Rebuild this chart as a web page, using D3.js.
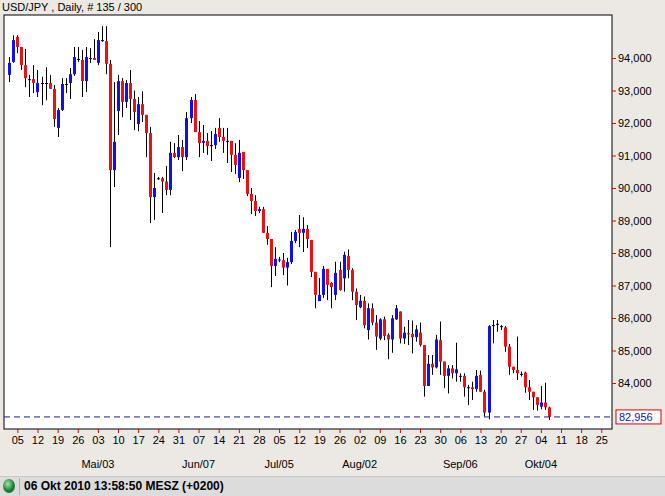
<!DOCTYPE html>
<html><head><meta charset="utf-8">
<script src="https://cdn.jsdelivr.net/npm/d3@7"></script>
<style>body{margin:0;background:#ece9e4;}svg{display:block;font-family:"Liberation Sans",Arial,sans-serif;}</style>
</head><body><svg id="c" width="665" height="496"></svg>
<script>
const title = "USD/JPY , Daily, # 135 / 300";
const statusText = "06 Okt 2010 13:58:50  MESZ (+0200)";
const lastPrice = 82.956;
const opens = [93.48,93.88,94.65,94.34,93.78,93.35,93.35,92.95,93.23,93.23,93.23,93.05,91.85,92.4,93.2,93.23,93.5,93.97,93.94,93.29,94.0,94.0,93.85,94.55,94.52,93.82,90.55,92.37,93.29,92.65,93.23,92.74,91.97,92.58,92.25,91.69,89.72,90.3,90.3,90.2,89.94,91.08,90.95,91.26,90.95,92.15,92.71,91.72,91.39,91.45,91.32,91.32,91.85,91.57,91.45,91.45,91.02,90.31,91.11,90.55,89.82,89.6,89.29,89.35,88.62,88.43,87.6,87.78,87.78,87.55,87.72,88.37,88.74,88.62,88.74,88.4,87.42,86.52,86.71,87.51,87.08,86.71,87.48,87.22,87.91,87.48,86.81,86.33,86.53,85.63,86.30,85.86,85.37,85.96,85.48,85.34,85.96,86.20,85.37,85.53,85.51,85.41,85.55,85.17,83.91,84.59,84.48,85.32,84.66,84.22,84.45,84.30,84.22,84.22,83.87,83.87,83.81,84.25,83.73,83.09,85.78,85.82,85.75,85.71,85.12,84.50,84.40,84.28,84.32,83.87,83.73,83.56,83.27,83.40,83.25];
const highs = [94.03,94.7,94.7,94.34,94.28,93.48,93.78,93.63,93.42,93.72,93.48,93.17,92.46,93.38,93.38,93.69,94.34,94.34,94.25,94.34,94.3,94.58,94.8,94.98,94.98,93.94,93.26,93.48,93.38,93.32,93.63,93.0,92.8,92.98,92.25,91.88,90.46,90.34,90.34,90.68,91.42,91.38,91.63,91.48,92.34,92.8,92.89,92.06,91.94,91.69,91.75,91.85,92.15,91.85,91.85,91.45,91.38,91.48,91.11,90.55,90.0,89.78,89.42,89.42,88.83,88.43,88.18,87.88,88.0,87.85,88.65,88.71,89.17,89.1,88.86,88.4,87.42,87.23,87.6,87.51,87.1,87.73,87.73,88.04,88.11,87.53,86.91,86.71,86.66,86.45,86.45,86.09,85.99,86.04,85.53,86.09,86.40,86.20,85.73,85.94,85.92,85.78,85.86,85.17,84.86,84.86,85.48,85.89,84.66,84.55,84.55,85.24,84.30,84.30,83.94,84.04,84.40,84.38,83.79,85.78,85.94,85.94,85.78,85.75,85.20,84.50,85.43,84.35,84.35,84.09,83.73,83.56,83.91,84.01,83.27];
const lows = [93.26,93.85,94.15,93.63,93.1,92.8,92.92,92.8,92.55,92.7,93.05,91.88,91.57,92.37,92.92,92.74,93.45,93.88,92.8,92.95,93.85,93.94,93.78,94.5,93.5,88.18,90.03,91.63,92.18,92.46,92.09,91.78,91.75,92.03,90.95,88.92,89.02,90.25,89.23,89.78,89.78,90.92,90.86,90.52,90.86,92.0,91.72,90.95,91.08,91.02,90.83,91.2,91.42,91.08,90.77,90.49,90.43,90.18,90.28,89.75,89.2,89.14,89.23,88.62,88.25,86.95,87.29,87.72,87.32,87.0,87.66,88.3,88.18,88.03,88.15,87.26,86.3,86.52,86.62,86.55,86.3,86.55,86.84,86.81,87.22,86.55,85.94,86.30,85.68,85.34,85.78,85.02,85.32,85.32,84.73,84.93,85.94,85.22,85.20,85.17,84.91,85.27,85.12,83.58,83.91,84.25,84.45,84.25,83.84,83.68,84.14,84.04,84.04,83.58,83.32,83.48,83.73,83.73,82.96,82.88,85.22,85.58,85.63,84.96,84.25,84.30,84.09,84.20,83.70,83.48,83.17,83.15,83.19,83.17,82.86];
const closes = [93.85,94.55,94.34,93.78,93.38,93.35,93.23,93.23,93.23,93.23,93.05,92.12,92.4,93.2,93.2,93.5,94.03,93.97,93.29,94.03,94.0,93.94,94.55,94.55,93.82,90.55,91.42,93.29,92.65,93.23,92.74,92.34,92.58,92.25,91.69,89.72,90.0,90.3,90.2,89.94,91.08,90.95,91.26,90.95,92.15,92.71,91.72,91.38,91.45,91.29,91.32,91.66,91.57,91.45,91.45,91.02,90.71,91.08,90.55,89.82,89.6,89.29,89.35,88.62,88.43,87.6,87.82,87.8,87.55,87.72,88.37,88.65,88.62,88.74,88.43,87.42,86.71,86.71,87.51,87.02,86.95,87.39,86.86,87.94,87.48,86.81,86.40,86.53,85.78,86.30,85.86,85.43,85.96,85.45,85.34,85.99,86.30,85.37,85.55,85.51,85.41,85.65,85.17,83.91,84.59,84.48,85.34,84.66,84.22,84.45,84.30,84.42,84.22,83.87,83.87,83.81,84.22,83.73,83.09,85.75,85.78,85.82,85.75,85.12,84.50,84.40,84.30,84.28,83.87,83.73,83.56,83.32,83.40,83.25,82.956];
// Monday tick indices (trading-day index) and labels
const weekLabels = ["05","12","19","26","03","10","17","24","31","07","14","21","28","05","12","19","26","02","09","16","23","30","06","13","20","27","04","11","18","25"];
const monthLabels = ["Mai/03","Jun/07","Jul/05","Aug/02","Sep/06","Okt/04"];
const monthWeek = [4,9,13,17,22,26];
const priceTicks = [84,85,86,87,88,89,90,91,92,93,94];

const svg = d3.select("#c");
const L=4, R=612, T=15, B=429;
const x = d3.scaleLinear().domain([0,134]).range([9.3, 9.3+134*4.027]);
const y = d3.scaleLinear().domain([83,94]).range([415.5,58]);
const fmt = v => d3.format(",.3f")(v).replace(".", "#").replace(",", ".").replace("#", ",").replace(".", "");

svg.append("rect").attr("width",665).attr("height",496).attr("fill","#ece9e4");
svg.append("rect").attr("x",L).attr("y",T).attr("width",R-L).attr("height",B-T).attr("fill","#fff").attr("stroke","#000");
svg.append("text").attr("x",2).attr("y",11).attr("font-size",11).attr("fill","#000").text(title);

const data = opens.map((o,i)=>({i,o,h:highs[i],l:lows[i],c:closes[i]}));
const g = svg.append("g");
g.selectAll("line.w").data(data).join("line")
  .attr("x1",d=>Math.round(x(d.i))+0.5).attr("x2",d=>Math.round(x(d.i))+0.5)
  .attr("y1",d=>y(d.h)).attr("y2",d=>y(d.l)).attr("stroke","#000").attr("stroke-width",1);
g.selectAll("rect.b").data(data).join("rect")
  .attr("x",d=>Math.round(x(d.i))-1).attr("width",3)
  .attr("y",d=>y(Math.max(d.o,d.c))).attr("height",d=>Math.max(1,Math.abs(y(d.o)-y(d.c))))
  .attr("fill",d=>d.c>d.o?"#1010ee":(d.c<d.o?"#ee1010":"#000060"));

svg.append("line").attr("x1",L).attr("x2",R).attr("y1",y(lastPrice)).attr("y2",y(lastPrice))
  .attr("stroke","#1a1aa0").attr("stroke-dasharray","6,4");

// right axis
const ya = d3.axisRight(y).tickValues(priceTicks).tickSize(4).tickFormat(fmt);
const gy = svg.append("g").attr("transform",`translate(${R},0)`).call(ya);
gy.select(".domain").remove();
gy.selectAll("line").attr("stroke","#e00000");
gy.selectAll("text").attr("font-size",11).attr("font-family","Liberation Sans, Arial").attr("fill","#000").attr("x",6);
svg.append("rect").attr("x",616).attr("y",y(lastPrice)-7).attr("width",45).attr("height",14).attr("fill","#fff").attr("stroke","#e00000");
svg.append("text").attr("x",619).attr("y",y(lastPrice)+4).attr("font-size",11).attr("fill","#1010c0").text(fmt(lastPrice));

// bottom axis
const tickIdx = weekLabels.map((d,k)=>2+5*k);
const xa = d3.axisBottom(x).tickValues(tickIdx).tickSize(4).tickFormat((d,k)=>weekLabels[k]);
const gx = svg.append("g").attr("transform",`translate(0,${B})`).call(xa);
gx.select(".domain").remove();
gx.selectAll("line").attr("stroke","#e00000");
gx.selectAll("text").attr("font-size",11).attr("font-family","Liberation Sans, Arial").attr("fill","#000").attr("y",7);
svg.append("g").selectAll("text").data(monthLabels).join("text")
  .attr("x",(d,k)=>x(tickIdx[monthWeek[k]])).attr("y",468).attr("text-anchor","middle")
  .attr("font-size",11).attr("fill","#000").text(d=>d);

// status bar
svg.append("rect").attr("x",0).attr("y",476).attr("width",665).attr("height",20).attr("fill","#dcdcdc");
svg.append("line").attr("x1",0).attr("x2",665).attr("y1",476.5).attr("y2",476.5).attr("stroke","#c8c8c8");
svg.append("line").attr("x1",19.5).attr("x2",19.5).attr("y1",478).attr("y2",495).attr("stroke","#b0b0b0");
const grad = svg.append("defs").append("radialGradient").attr("id","gd").attr("cx","40%").attr("cy","35%");
grad.append("stop").attr("offset","0%").attr("stop-color","#9fe8a8");
grad.append("stop").attr("offset","100%").attr("stop-color","#1a7a30");
svg.append("ellipse").attr("cx",9).attr("cy",486).attr("rx",6).attr("ry",7).attr("fill","url(#gd)");
svg.append("text").attr("x",24).attr("y",490).attr("font-size",12).attr("font-weight","bold").attr("fill","#000").text(statusText);
</script></body></html>
